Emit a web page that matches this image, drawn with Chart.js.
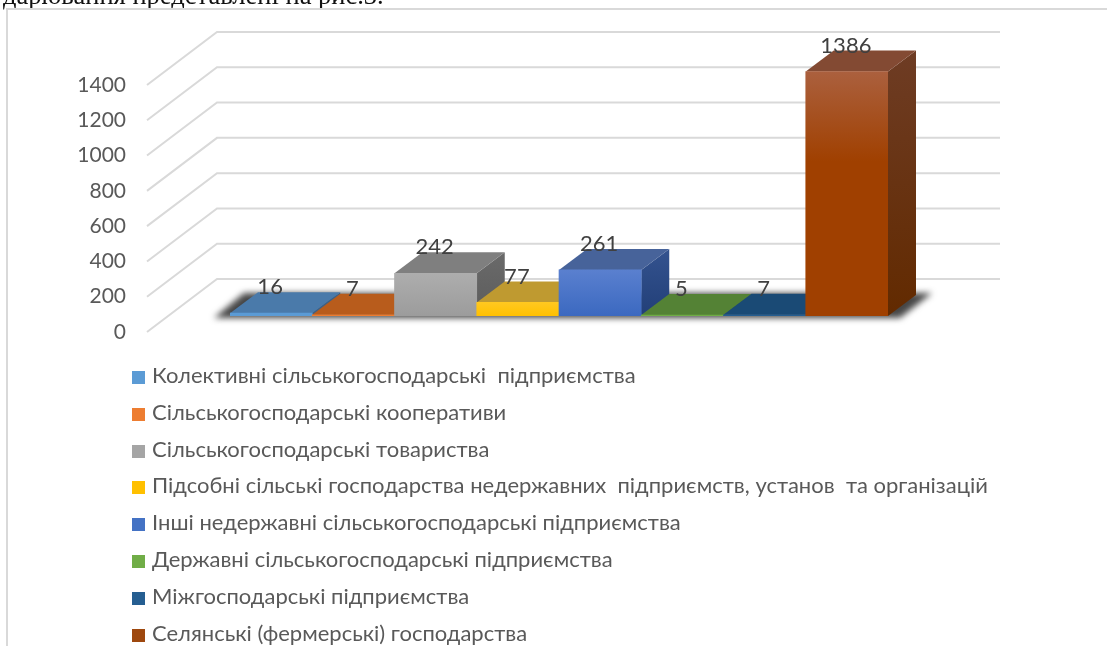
<!DOCTYPE html>
<html>
<head>
<meta charset="utf-8">
<title>Chart</title>
<script src="https://cdn.jsdelivr.net/npm/chart.js@4"></script>
<style>
    html, body { margin: 0; padding: 0; background: #fff; width: 1107px; height: 646px; overflow: hidden; }
    #heading { position: absolute; left: 3px; top: -20px; font: 26.5px "Liberation Serif", serif; color: #111; white-space: pre; filter: blur(0.4px); }
    #frame { position: absolute; left: 6px; top: 8px; width: 1200px; height: 800px; border: 2px solid #d9d9d9; }
    #chart { position: absolute; left: 0; top: 0; filter: blur(0.5px); }
    #legend { position: absolute; left: 132px; top: 357px; font: 22px Lato, "Noto Sans", sans-serif; color: #595959; filter: blur(0.4px); }
    #legend div { height: 36.8px; line-height: 36.8px; white-space: pre; }
    #legend i { display: inline-block; width: 13px; height: 13px; margin-right: 7px; vertical-align: -1px; }
</style>
</head>
<body>
<div id="heading">дарювання представлені на рис.3.</div>
<div id="frame"></div>
<canvas id="chart" width="1107" height="646"></canvas>
<div id="legend"></div>
<script>
const categories = [
    "Колективні сільськогосподарські  підприємства",
    "Сільськогосподарські кооперативи",
    "Сільськогосподарські товариства",
    "Підсобні сільські господарства недержавних  підприємств, установ  та організацій",
    "Інші недержавні сільськогосподарські підприємства",
    "Державні сільськогосподарські підприємства",
    "Міжгосподарські підприємства",
    "Селянські (фермерські) господарства",
];
const values = [16, 7, 242, 77, 261, 5, 7, 1386];

// colours per bar
const legendColors = ["#5B9BD5", "#ED7D31", "#A5A5A5", "#FFC000", "#4472C4", "#70AD47", "#255E91", "#9E480E"];
const frontTop = ["#5B9BD5", "#ED7D31", "#ADADAD", "#FFC820", "#5A80CF", "#70AD47", "#255E91", "#AB603E"];
const frontBottom = ["#5B9BD5", "#ED7D31", "#9C9C9C", "#FFC000", "#3B69C0", "#70AD47", "#255E91", "#A04000"];
const topFace = ["#4A7AAA", "#B85C1C", "#7F7F7F", "#BF9A30", "#47639A", "#548235", "#1A4A75", "#834A33"];
const sideTop = ["#3A6088", "#8F4716", "#6A6A6A", "#9A7A20", "#34538F", "#42682A", "#143A5C", "#6E3C24"];
const sideBottom = ["#3A6088", "#8F4716", "#5C5C5C", "#9A7A20", "#223F78", "#42682A", "#143A5C", "#622A00"];

const DEPTH_X = 28, DEPTH_Y = 21;        // bar extrusion
const WALL_X = 217, WALL_RIGHT = 1000, WALL_Y = 37;   // back wall offset from bar plane
const EDGE_X = 147, EDGE_Y = 16;         // front end of the side-wall lines

function poly(ctx, pts, fill) {
    ctx.beginPath();
    pts.forEach((p, i) => i ? ctx.lineTo(p[0], p[1]) : ctx.moveTo(p[0], p[1]));
    ctx.closePath();
    ctx.fillStyle = fill;
    ctx.fill();
}

const box3d = {
    id: "box3d",
    beforeDatasetsDraw(chart) {
        const ctx = chart.ctx;
        const yScale = chart.scales.y;
        const bars = chart.getDatasetMeta(0).data;

        // walls
        ctx.save();
        ctx.strokeStyle = "#d9d9d9";
        ctx.lineWidth = 2;
        yScale.ticks.forEach(t => {
            const y = yScale.getPixelForValue(t.value);
            ctx.beginPath();
            ctx.moveTo(EDGE_X, y + EDGE_Y);
            ctx.lineTo(WALL_X, y - WALL_Y);
            ctx.lineTo(WALL_RIGHT, y - WALL_Y);
            ctx.stroke();
        });
        ctx.restore();

        // floor shadow
        const base = yScale.getPixelForValue(0);
        const left = bars[0].x - bars[0].width / 2;
        const right = bars[7].x + bars[7].width / 2;
        ctx.save();
        ctx.filter = "blur(3px)";
        poly(ctx, [[left - 16, base + 2], [left + 14, base - DEPTH_Y - 2], [right + 44, base - DEPTH_Y - 2], [right + 12, base + 2]], "rgba(50,50,50,0.9)");
        ctx.restore();

        // tops and sides, left to right
        bars.forEach((bar, i) => {
            const l = bar.x - bar.width / 2, r = bar.x + bar.width / 2;
            const grad = ctx.createLinearGradient(0, bar.y - DEPTH_Y, 0, base);
            grad.addColorStop(0, sideTop[i]);
            grad.addColorStop(1, sideBottom[i]);
            poly(ctx, [[r, bar.y], [r + DEPTH_X, bar.y - DEPTH_Y], [r + DEPTH_X, base - DEPTH_Y], [r, base]], grad);
            poly(ctx, [[l, bar.y], [l + DEPTH_X, bar.y - DEPTH_Y], [r + DEPTH_X, bar.y - DEPTH_Y], [r, bar.y]], topFace[i]);
        });
    },
    afterDatasetsDraw(chart) {
        const ctx = chart.ctx;
        const bars = chart.getDatasetMeta(0).data;
        ctx.save();
        ctx.font = "22px Lato, 'Noto Sans', sans-serif";
        ctx.fillStyle = "#404040";
        ctx.textAlign = "center";
        ctx.textBaseline = "middle";
        bars.forEach((bar, i) => {
            ctx.fillText(values[i], bar.x - 1, bar.y - DEPTH_Y - 5);
        });
        ctx.restore();
    },
};

new Chart(document.getElementById("chart"), {
    type: "bar",
    data: {
        labels: categories,
        datasets: [{
            data: values,
            barPercentage: 1,
            categoryPercentage: 1,
            borderWidth: 0,
            backgroundColor(c) {
                if (c.type !== "data") return "#000";
                const yScale = c.chart.scales.y;
                const y0 = yScale.getPixelForValue(c.raw), y1 = yScale.getPixelForValue(0);
                if (!isFinite(y0) || !isFinite(y1)) return frontBottom[c.dataIndex];
                const g = c.chart.ctx.createLinearGradient(0, y0, 0, y1);
                g.addColorStop(0, frontTop[c.dataIndex]);
                g.addColorStop(Math.min(1, 90 / Math.max(1, y1 - y0)), frontBottom[c.dataIndex]);
                g.addColorStop(1, frontBottom[c.dataIndex]);
                return g;
            },
        }],
    },
    options: {
        responsive: false,
        animation: false,
        layout: { padding: { left: 0, right: 219, top: 69, bottom: 330 } },
        plugins: { legend: { display: false }, tooltip: { enabled: false } },
        scales: {
            x: { display: false },
            y: {
                min: 0,
                max: 1400,
                grid: { display: false },
                border: { display: false },
                afterFit(scale) {
                    scale.width = 230;
                    scale.paddingTop = 0;
                    scale.paddingBottom = 0;
                },
                ticks: {
                    stepSize: 200,
                    padding: 96,
                    labelOffset: 16,
                    color: "#595959",
                    font: { family: "Lato, 'Noto Sans', sans-serif", size: 21 },
                    callback: v => String(v),
                },
            },
        },
    },
    plugins: [box3d],
});

// legend
const legendEl = document.getElementById("legend");
categories.forEach((name, i) => {
    const row = document.createElement("div");
    const mark = document.createElement("i");
    mark.style.background = legendColors[i];
    row.appendChild(mark);
    row.appendChild(document.createTextNode(name));
    legendEl.appendChild(row);
});
</script>
</body>
</html>
